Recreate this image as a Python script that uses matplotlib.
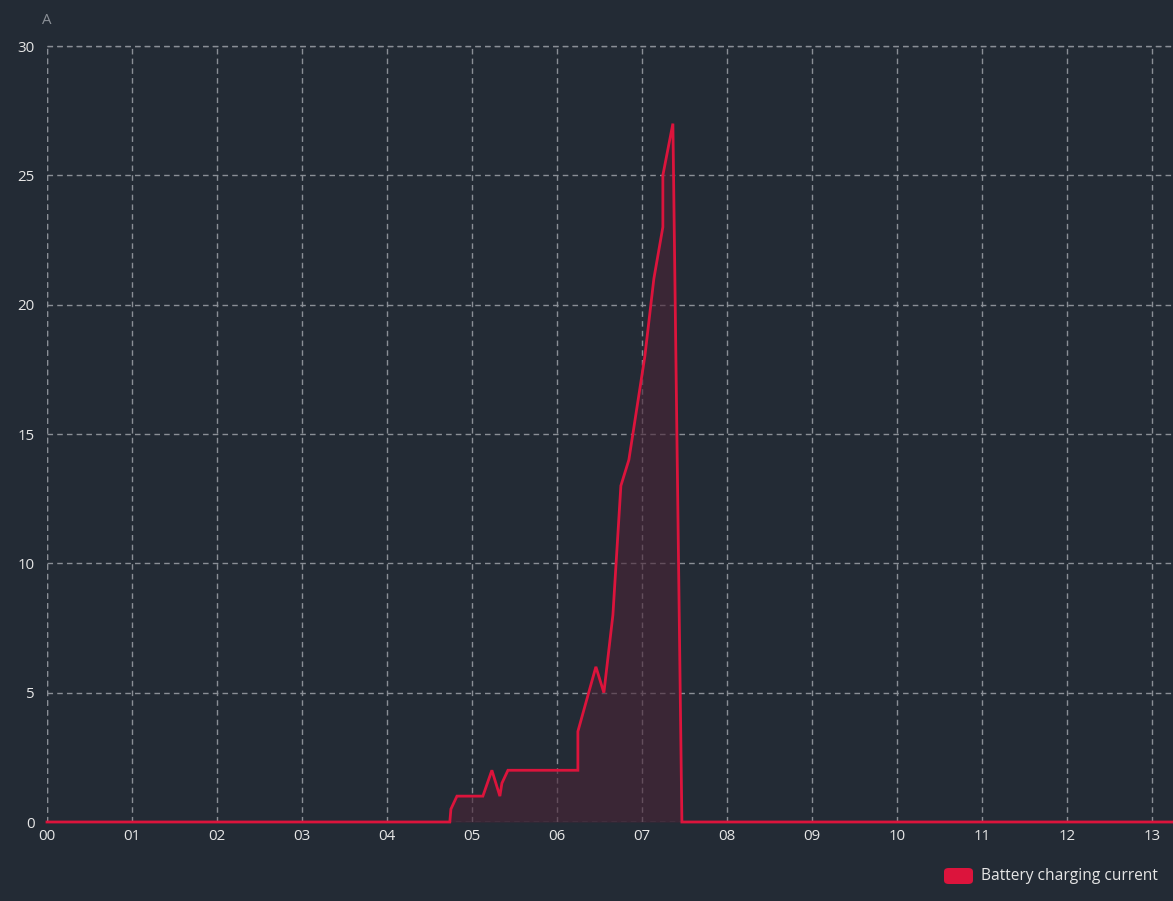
import matplotlib
matplotlib.use("Agg")
import matplotlib.pyplot as plt
from matplotlib.patches import FancyBboxPatch

hours = [0.0, 4.74, 4.753, 4.824, 5.129, 5.235, 5.329, 5.353, 5.424, 6.247, 6.247,
         6.459, 6.553, 6.659, 6.753, 6.847, 7.035, 7.141, 7.247, 7.247, 7.365, 7.471, 13.25]
current = [0.0, 0.0, 0.5, 1.0, 1.0, 2.0, 1.0, 1.5, 2.0, 2.0, 3.5,
           6.0, 5.0, 8.0, 13.0, 14.0, 18.0, 21.0, 23.0, 25.0, 27.0, 0.0, 0.0]
xticks = list(range(0, 14))
xlabels = [f"{h:02d}" for h in xticks]
yticks = [0, 5, 10, 15, 20, 25, 30]

BG = "#232b35"
RED = "#dc143c"
GRID = "#8a8f96"
TXT = "#e6e6e6"

plt.rcParams['font.family'] = ['Open Sans', 'DejaVu Sans']

fig = plt.figure(figsize=(11.73, 9.01), dpi=100, facecolor=BG)
ax = fig.add_axes([47/1173, 79/901, 1 - 47/1173, 776/901], facecolor=BG)

ax.fill_between(hours, current, 0, color="#4a2436", alpha=0.6, linewidth=0, zorder=2)
ax.plot(hours, current, color=RED, linewidth=2, zorder=3, solid_joinstyle='miter', clip_on=False)

ax.set_xlim(0, 13.25)
ax.set_ylim(0, 30)
ax.set_xticks(xticks)
ax.set_xticklabels(xlabels)
ax.set_yticks(yticks)

for s in ax.spines.values():
    s.set_visible(False)
ax.grid(True, color=GRID, linewidth=1, linestyle=(0, (4, 3)), zorder=1)
ax.axvline(0, color=GRID, linewidth=1, linestyle=(0, (4, 3)), zorder=1)
ax.axhline(30, color=GRID, linewidth=1, linestyle=(0, (4, 3)), zorder=1, clip_on=False)
ax.tick_params(axis='both', length=0, colors=TXT, labelsize=10.8, pad=5)
ax.tick_params(axis='y', pad=9)

fig.text(47/1173, 1 - 20/901, "A", color="#8a8f96", fontsize=10.8, ha='center', va='center')

# legend
box = FancyBboxPatch((944/1173, 1 - 884/901), 29/1173, 16/901,
                     boxstyle="round,pad=0,rounding_size=0.004",
                     transform=fig.transFigure, facecolor=RED, edgecolor='none')
fig.patches.append(box)
fig.text(981/1173, 1 - 876/901, "Battery charging current", color=TXT,
         fontsize=11.2, ha='left', va='center')

fig.savefig("out.png", dpi=100, facecolor=BG)
